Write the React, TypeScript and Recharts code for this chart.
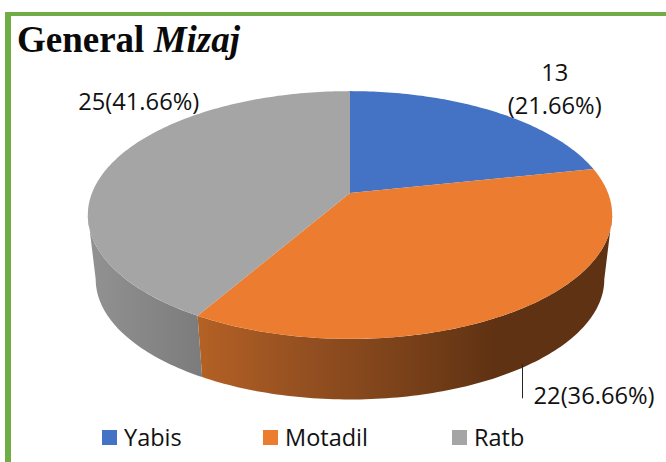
import React from "react";
import { PieChart, Pie, Cell, Legend } from "recharts";

const categories = ["Yabis", "Motadil", "Ratb"];
const counts = [13, 22, 25];
const labelLines = [["13", "(21.66%)"], ["22(36.66%)"], ["25(41.66%)"]];
const colors = ["#4472C4", "#EB7C30", "#A5A5A5"];

// wall shading as [position, colour], across the wall's horizontal extent
const wallStops = [
  [[0, "#2F4F8A"], [1, "#2F4F8A"]],
  [[0, "#B46124"], [0.25, "#955021"], [0.5, "#7A4119"], [0.72, "#5F3213"], [1, "#5F3213"]],
  [[0, "#929292"], [1, "#7B7B7B"]],
] as [number, string][][];
const wallSpan = [
  [350, 610],
  [198, 612],
  [88, 205],
];

// label placement relative to the projected slice midpoint
const labelOffsets = [
  [62, -30],
  [67, 98],
  [27, -53],
];
const leaderLines = [null, [-5, 58, -5, 92], null];

const W = 666;
const H = 462;
const CX = 350;
const CY = 193;
const RADIUS = 258;
const Y_RATIO = 0.465;
const PERSPECTIVE = 0.1775;
const BOTTOM_SCALE = 0.97;
const BOTTOM_SHIFT = 65;
const FONT = "'Open Sans', 'Noto Sans', sans-serif";
const FS = 23.7;
// the front of the wall, between the two silhouette points, in chart degrees
const FRONT_START = -10.2;
const FRONT_END = -169.8;

const data = categories.map((name, i) => ({ name, value: counts[i] }));

function project(angle: number, cx: number, cy: number, r: number, scale = 1, shift = 0) {
  const t = ((90 - angle) * Math.PI) / 180;
  const w = 1 + PERSPECTIVE * Math.cos(t);
  return {
    x: cx + (r * scale * Math.sin(t)) / w,
    y: cy + shift - (r * Y_RATIO * scale * Math.cos(t)) / w,
  };
}

function arc(a0: number, a1: number, cx: number, cy: number, r: number, scale = 1, shift = 0) {
  const n = Math.max(2, Math.ceil(Math.abs(a1 - a0)));
  const out: string[] = [];
  for (let i = 0; i <= n; i++) {
    const p = project(a0 + ((a1 - a0) * i) / n, cx, cy, r, scale, shift);
    out.push(`${p.x.toFixed(2)} ${p.y.toFixed(2)}`);
  }
  return out;
}

function TopFace(props: any) {
  const { cx, cy, outerRadius, startAngle, endAngle, fill } = props;
  const pts = arc(startAngle, endAngle, cx, cy, outerRadius);
  return <path d={`M${cx} ${cy}L${pts.join("L")}Z`} fill={fill} stroke="none" />;
}

function Wall(props: any) {
  const { cx, cy, outerRadius, startAngle, endAngle, index } = props;
  const from = Math.min(startAngle, FRONT_START);
  const to = Math.max(endAngle, FRONT_END);
  if (from <= to) return <g />;
  const top = arc(from, to, cx, cy, outerRadius);
  const bottom = arc(to, from, cx, cy, outerRadius, BOTTOM_SCALE, BOTTOM_SHIFT);
  const id = `wall-${index}`;
  return (
    <g>
      <defs>
        <linearGradient id={id} gradientUnits="userSpaceOnUse" x1={wallSpan[index][0]} x2={wallSpan[index][1]} y1={0} y2={0}>
          {wallStops[index].map(([o, c]) => (
            <stop key={o} offset={o} stopColor={c} />
          ))}
        </linearGradient>
      </defs>
      <path d={`M${top.join("L")}L${bottom.join("L")}Z`} fill={`url(#${id})`} stroke="none" />
    </g>
  );
}

function renderLabel(props: any) {
  const { index, midAngle } = props;
  const p = project(midAngle, CX, CY, RADIUS);
  const x = p.x + labelOffsets[index][0];
  const y = p.y + labelOffsets[index][1];
  const lines = labelLines[index];
  const lead = leaderLines[index];
  return (
    <g>
      {lead && (
        <line
          x1={Math.floor(p.x + lead[0]) + 0.5}
          y1={p.y + lead[1]}
          x2={Math.floor(p.x + lead[2]) + 0.5}
          y2={p.y + lead[3]}
          stroke="#262626"
          strokeWidth={1}
        />
      )}
      <text x={x} y={y} textAnchor="middle" fontFamily={FONT} fontSize={FS} fill="#111">
        {lines.map((l, i) => (
          <tspan key={l} x={x} dy={i === 0 ? 0 : 33}>
            {l}
          </tspan>
        ))}
      </text>
    </g>
  );
}

const legendWidths = [161, 189, 80];

function renderLegend(props: any) {
  const payload = ((props.payload || []) as any[]).filter((it) => it.type !== "none");
  const items = categories.map((c) => payload.find((it) => it.value === c)).filter(Boolean);
  return (
    <div style={{ display: "flex", fontFamily: FONT, fontSize: 23.5, color: "#111", lineHeight: "30px" }}>
      {items.map((it, i) => (
        <div key={it.value} style={{ width: legendWidths[i], display: "flex", alignItems: "center" }}>
          <span style={{ width: 15, height: 15, background: it.color, marginRight: 7, display: "inline-block" }} />
          <span>{it.value}</span>
        </div>
      ))}
    </div>
  );
}

export default function App() {
  return (
    <div style={{ position: "absolute", left: 0, top: 0, width: W, height: H, overflow: "hidden", background: "#fff" }}>
      <div style={{ position: "absolute", left: 5, top: 12, right: 0, height: 3.5, background: "#70AD47" }} />
      <div style={{ position: "absolute", left: 5, top: 12, bottom: 0, width: 5.5, background: "#70AD47" }} />
      <div
        style={{
          position: "absolute",
          left: 17,
          top: 18,
          fontFamily: "'Liberation Serif', serif",
          fontWeight: "bold",
          fontSize: 37,
          lineHeight: "44px",
          color: "#0a0a0a",
          whiteSpace: "pre",
        }}
      >
        General <i>Mizaj</i>
      </div>
      <PieChart width={W} height={H} margin={{ top: 0, right: 0, bottom: 0, left: 0 }} style={{ position: "absolute", left: 0, top: 0 }}>
        <Pie
          data={data}
          dataKey="value"
          nameKey="name"
          cx={CX}
          cy={CY}
          outerRadius={RADIUS}
          startAngle={90}
          endAngle={-270}
          stroke="none"
          legendType="none"
          isAnimationActive={false}
          shape={Wall}
        />
        <Pie
          data={data}
          dataKey="value"
          nameKey="name"
          cx={CX}
          cy={CY}
          outerRadius={RADIUS}
          startAngle={90}
          endAngle={-270}
          stroke="none"
          isAnimationActive={false}
          shape={TopFace}
          label={renderLabel}
          labelLine={false}
          legendType="square"
        >
          {data.map((d, i) => (
            <Cell key={d.name} fill={colors[i]} />
          ))}
        </Pie>
        <Legend content={renderLegend} wrapperStyle={{ left: 102, top: 422, width: 460, bottom: "auto" }} />
      </PieChart>
    </div>
  );
}
